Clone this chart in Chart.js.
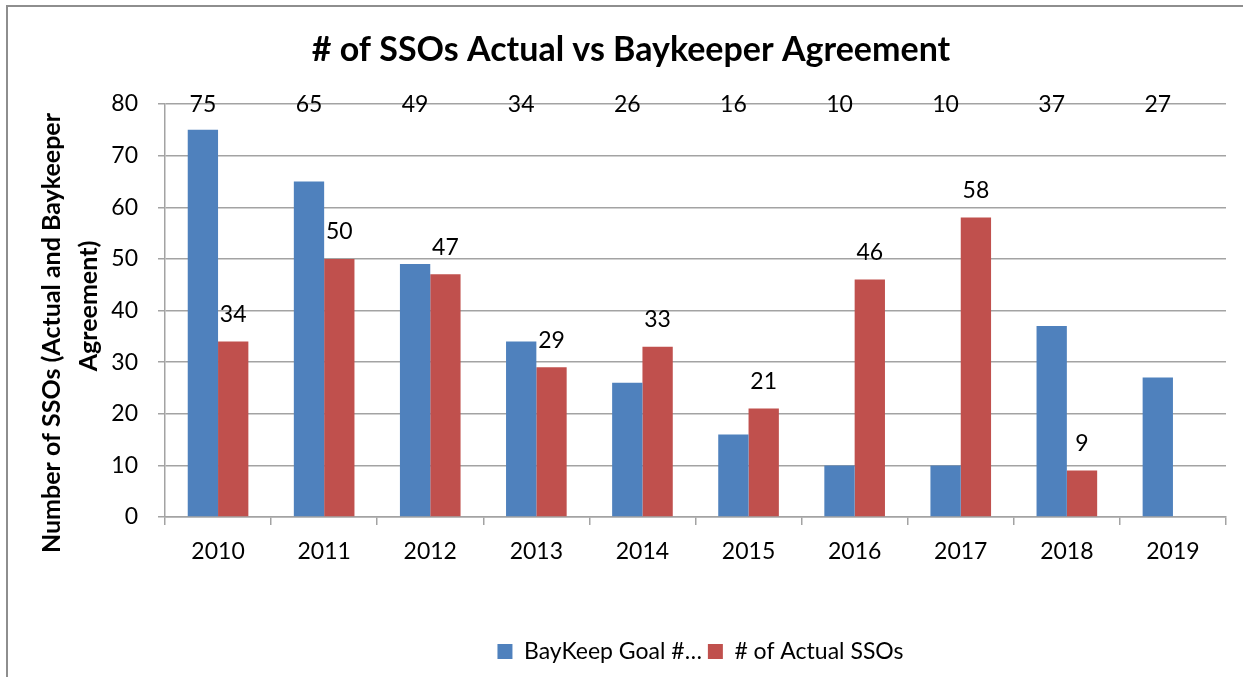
<!DOCTYPE html>
<html><head><meta charset="utf-8">
<script src="https://cdn.jsdelivr.net/npm/chart.js@4"></script>
<style>html,body{margin:0;padding:0;background:#fff;} canvas{display:block}</style>
</head><body>
<canvas id="c" width="1243" height="677"></canvas>
<script>
const categories = ['2010','2011','2012','2013','2014','2015','2016','2017','2018','2019'];
const goalValues = [75,65,49,34,26,16,10,10,37,27];
const actualValues = [34,50,47,29,33,21,46,58,9,null];
const yTicks = [0,10,20,30,40,50,60,70,80];
const seriesLabels = ['BayKeep Goal #…', '# of Actual SSOs'];
const chartTitle = '# of SSOs Actual vs Baykeeper Agreement';
const yTitle = ['Number of SSOs (Actual and Baykeeper', 'Agreement)'];

const FONT = 'Lato, "Open Sans", sans-serif';
const GRID = '#a3a3a3';

const decor = {
  id: 'decor',
  afterLayout(chart) {
    const lg = chart.legend;
    if (lg) { lg.left += 84; lg.right += 84; }
  },
  beforeDraw(chart) {
    const ctx = chart.ctx;
    ctx.save();
    ctx.fillStyle = '#fff';
    ctx.fillRect(0, 0, chart.width, chart.height);
    ctx.strokeStyle = '#8e8e8e';
    ctx.lineWidth = 2;
    ctx.beginPath();
    ctx.moveTo(7, chart.height + 5);
    ctx.lineTo(7, 6);
    ctx.lineTo(chart.width + 5, 6);
    ctx.stroke();
    ctx.restore();
  },
  afterDraw(chart) {
    const ctx = chart.ctx;
    ctx.save();
    ctx.fillStyle = '#000';
    ctx.textAlign = 'center';
    ctx.textBaseline = 'middle';
    ctx.font = 'bold 34px ' + FONT;
    ctx.fillText(chartTitle, 631, 50);
    // y title
    ctx.font = 'bold 25px ' + FONT;
    ctx.save();
    ctx.translate(52, 333);
    ctx.rotate(-Math.PI / 2);
    ctx.fillText(yTitle[0], 0, 0);
    ctx.restore();
    ctx.save();
    ctx.translate(89, 306);
    ctx.rotate(-Math.PI / 2);
    ctx.fillText(yTitle[1], 0, 0);
    ctx.restore();
    // data labels
    ctx.font = '23px ' + FONT;
    const yScale = chart.scales.y;
    const m0 = chart.getDatasetMeta(0);
    m0.data.forEach((bar, i) => {
      if (goalValues[i] == null) return;
      ctx.fillText(String(goalValues[i]), bar.x, yScale.getPixelForValue(80) + 1);
    });
    const m1 = chart.getDatasetMeta(1);
    m1.data.forEach((bar, i) => {
      if (actualValues[i] == null) return;
      ctx.fillText(String(actualValues[i]), bar.x, bar.y - 27);
    });
    ctx.restore();
  }
};

new Chart(document.getElementById('c'), {
  type: 'bar',
  data: {
    labels: categories,
    datasets: [
      { label: seriesLabels[0], data: goalValues, backgroundColor: '#4f81bd', borderWidth: 0 },
      { label: seriesLabels[1], data: actualValues, backgroundColor: '#c0504d', borderWidth: 0 }
    ]
  },
  options: {
    responsive: false,
    animation: false,
    devicePixelRatio: 1,
    categoryPercentage: 2 / 3.5,
    barPercentage: 1,
    layout: { padding: { left: 7, right: 17, top: 104, bottom: 4 } },
    plugins: {
      title: { display: false },
      tooltip: { enabled: false },
      legend: {
        position: 'bottom',
        labels: {
          boxWidth: 15, boxHeight: 15, padding: 6,
          color: '#000',
          font: { family: FONT, size: 23 }
        }
      }
    },
    scales: {
      x: {
        grid: { display: true, drawOnChartArea: false, drawTicks: true, tickLength: 8, color: GRID, lineWidth: 1.5, offset: true },
        border: { display: true, color: GRID, width: 1.5 },
        ticks: { color: '#000', font: { family: FONT, size: 23 }, padding: 13 },
        afterFit(scale) { scale.height = 117; }
      },
      y: {
        min: 0, max: 80,
        afterBuildTicks(scale) { scale.ticks = yTicks.map(v => ({ value: v })); },
        grid: { color: GRID, lineWidth: 1.5, tickLength: 7, drawTicks: true },
        border: { display: true, color: GRID, width: 1.5 },
        ticks: { color: '#000', font: { family: FONT, size: 23 }, padding: 20 },
        afterFit(scale) { scale.width = 158; }
      }
    }
  },
  plugins: [decor]
});
</script>
</body></html>
